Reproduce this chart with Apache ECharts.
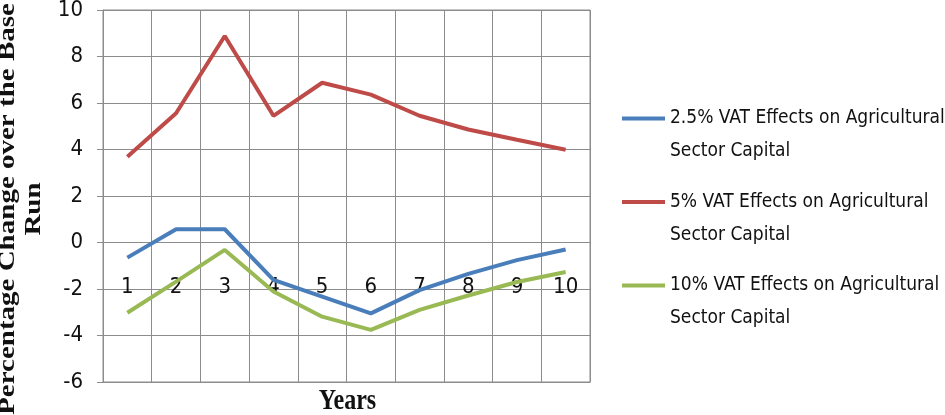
<!DOCTYPE html>
<html><head><meta charset="utf-8">
<script src="https://cdn.jsdelivr.net/npm/echarts@6/dist/echarts.min.js"></script>
<style>html,body{margin:0;padding:0;background:#fff}#c{width:945px;height:415px}</style>
</head><body><div id="c"></div>
<script>
const years = ['1','2','3','4','5','6','7','8','9','10'];
const vat25 = [-0.65, 0.57, 0.57, -1.61, -2.33, -3.05, -2.05, -1.35, -0.76, -0.3];
const vat5 = [3.69, 5.56, 8.88, 5.45, 6.87, 6.36, 5.45, 4.86, 4.42, 3.99];
const vat10 = [-3.02, -1.68, -0.32, -2.11, -3.19, -3.76, -2.9, -2.28, -1.7, -1.27];
const seriesNames = ['2.5% VAT Effects on Agricultural\nSector Capital', '5% VAT Effects on Agricultural\nSector Capital', '10% VAT Effects on Agricultural\nSector Capital'];
const yTicks = {min: -6, max: 10, interval: 2};

const chart = echarts.init(document.getElementById('c'));
const narrow = '"Liberation Sans Narrow", "DejaVu Sans Condensed", "Liberation Sans", sans-serif';
const gridCol = '#8c8c8c';
function line(name, data, color) {
  return {name, type: 'line', data, symbol: 'none', smooth: false,
    lineStyle: {color, width: 4}, itemStyle: {color}};
}
chart.setOption({
  animation: false,
  grid: {left: 103, top: 10, width: 487, height: 372, show: true, borderColor: gridCol, borderWidth: 1,
    containLabel: false, outerBoundsMode: 'none'},
  xAxis: {type: 'category', data: years, boundaryGap: true, position: 'bottom',
    axisLine: {show: true, onZero: false, lineStyle: {color: gridCol}}, axisTick: {show: false},
    axisLabel: {interval: 0, margin: -106, color: '#111', fontSize: 22, fontFamily: narrow},
    splitLine: {show: true, interval: 0, lineStyle: {color: gridCol, width: 1}}},
  yAxis: {type: 'value', min: yTicks.min, max: yTicks.max, interval: yTicks.interval,
    axisLine: {show: true, lineStyle: {color: gridCol}},
    axisTick: {show: true, length: 6, lineStyle: {color: gridCol}},
    axisLabel: {margin: 20, color: '#111', fontSize: 22, fontFamily: narrow},
    splitLine: {lineStyle: {color: gridCol, width: 1}}},
  legend: {orient: 'vertical', left: 622, top: 69, padding: 0, itemGap: -15.5,
    itemWidth: 43, itemHeight: 4, icon: 'rect',
    formatter: n => ' \n' + n,
    textStyle: {fontSize: 19, lineHeight: 33, color: '#111', fontFamily: narrow},
    data: seriesNames},
  series: [line(seriesNames[0], vat25, '#4a7ebb'), line(seriesNames[1], vat5, '#be4b48'), line(seriesNames[2], vat10, '#98b954')],
  graphic: [
    {type: 'text', x: 8, y: 209, rotation: Math.PI/2, scaleY: 0.8,
      style: {text: 'Percentage Change over the Base', font: 'bold 29px "Liberation Serif", serif', fill: '#111', textAlign: 'center', textVerticalAlign: 'middle'}},
    {type: 'text', x: 34, y: 209, rotation: Math.PI/2, scaleY: 0.8,
      style: {text: 'Run', font: 'bold 29px "Liberation Serif", serif', fill: '#111', textAlign: 'center', textVerticalAlign: 'middle'}},
    {type: 'text', x: 347.5, y: 402, scaleX: 0.83,
      style: {text: 'Years', font: 'bold 29px "Liberation Serif", serif', fill: '#111', textAlign: 'center', textVerticalAlign: 'middle'}}
  ]
});
</script></body></html>
